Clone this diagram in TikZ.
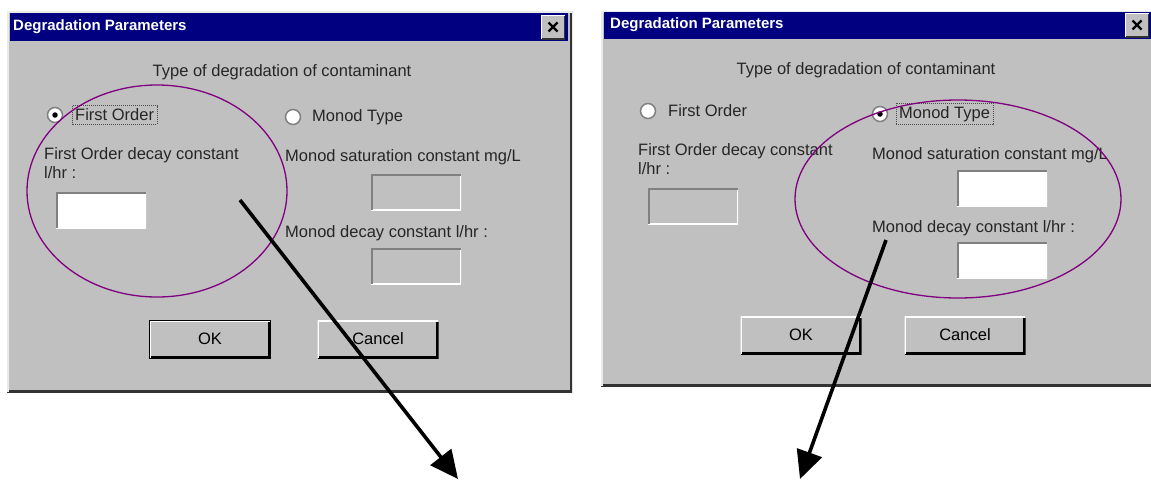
\documentclass[tikz,border=0pt]{standalone}
\usepackage{fontspec}
\setmainfont{Liberation Sans}
\usetikzlibrary{arrows.meta,shapes.geometric}
\definecolor{winGray}{HTML}{C0C0C0}
\definecolor{winDark}{HTML}{808080}
\definecolor{winNavy}{HTML}{000080}
\definecolor{ovalPurple}{HTML}{800080}
\tikzset{
  x=1pt, y=-1pt,
  dialog/.style={rectangle, fill=winGray, inner sep=0pt, anchor=north west,
    path picture={
      \draw[black!80, line width=5pt] (path picture bounding box.south west) -| (path picture bounding box.north east);
      \draw[white!92!black, line width=3pt] (path picture bounding box.south west) |- (path picture bounding box.north east);
    }},
  titlebar/.style={rectangle, fill=winNavy, inner sep=0pt, anchor=north west},
  titletext/.style={font=\bfseries\fontsize{15}{17}\selectfont, text=white, anchor=west, inner sep=0pt},
  closebtn/.style={rectangle, fill=winGray, minimum width=24pt, minimum height=24pt, inner sep=0pt,
    path picture={
      \draw[black!80, line width=3pt] (path picture bounding box.south west) -| (path picture bounding box.north east);
      \draw[white, line width=2pt] (path picture bounding box.south west) |- (path picture bounding box.north east);
      \draw[black, line width=2.2pt] ([shift={(-4.5,-4.5)}]path picture bounding box.center) -- ([shift={(4.5,4.5)}]path picture bounding box.center)
        ([shift={(-4.5,4.5)}]path picture bounding box.center) -- ([shift={(4.5,-4.5)}]path picture bounding box.center);
    }},
  lbl/.style={font=\fontsize{16.5}{19}\selectfont, text=black!85, inner sep=0pt, anchor=west, align=left},
  field/.style={rectangle, minimum width=90pt, minimum height=36pt, inner sep=0pt,
    path picture={
      \draw[white, line width=3pt] (path picture bounding box.south west) -| (path picture bounding box.north east);
      \draw[winDark, line width=4pt] (path picture bounding box.south west) |- (path picture bounding box.north east);
    }},
  activefield/.style={field, fill=white},
  idlefield/.style={field, fill=winGray},
  button/.style={rectangle, fill=winGray, minimum width=121pt, minimum height=38pt, inner sep=0pt,
    font=\fontsize{16.5}{19}\selectfont,
    path picture={
      \draw[black, line width=5pt] (path picture bounding box.south west) -| (path picture bounding box.north east);
      \draw[white, line width=3pt] (path picture bounding box.south west) |- (path picture bounding box.north east);
    }},
  defbutton/.style={button, draw=black, line width=1pt},
  radio/.style={circle, minimum size=15pt, inner sep=0pt, fill=white, draw=winDark, line width=1.5pt},
  radiodot/.style={circle, minimum size=5.5pt, inner sep=0pt, fill=black},
  focusbox/.style={draw=black!70, dash pattern=on 1pt off 1pt, line width=0.8pt},
  oval/.style={ellipse, draw=ovalPurple, line width=1.3pt},
  pointer/.style={line width=3.6pt, -{Triangle[length=28pt,width=26pt]}}
}
\begin{document}
\begin{tikzpicture}
\clip (0,0) rectangle (1151,480);
\fill[white] (0,0) rectangle (1151,480);

% ---------------- Left dialog ----------------
\node[dialog, minimum width=565pt, minimum height=381pt] (dlgL) at (7,11) {};
\node[titlebar, minimum width=558pt, minimum height=28pt] (titleL) at (10,13) {};
\node[titletext] (titleLtxt) at (13,27) {Degradation Parameters};
\node[closebtn] (closeL) at (553,27) {};
\node[lbl, anchor=center] (typeL) at (282,72) {Type of degradation of contaminant};
\node[radio] (radFOL) at (55,115) {};
\node[radiodot] (radFOLdot) at (radFOL.center) {};
\node[lbl] (txtFOL) at (75,115) {First Order};
\draw[focusbox] ([shift={(-3,-3)}]txtFOL.north west) rectangle ([shift={(3,3)}]txtFOL.south east);
\node[radio] (radMTL) at (293,117) {};
\node[lbl] (txtMTL) at (312,117) {Monod Type};
\node[lbl, anchor=north west] (fodL) at (44,147) {First Order decay constant\\l/hr :};
\node[activefield] (fieldFOL) at (101,210) {};
\node[lbl] (satL) at (285,157) {Monod saturation constant mg/L};
\node[idlefield] (fieldSatL) at (416,192) {};
\node[lbl] (mdcL) at (285,233) {Monod decay constant l/hr :};
\node[idlefield] (fieldMdcL) at (416,266) {};
\node[defbutton] (okL) at (210,339) {OK};
\node[button] (cancelL) at (378,339) {Cancel};

% ---------------- Right dialog ----------------
\node[dialog, minimum width=556pt, minimum height=375pt] (dlgR) at (601,11) {};
\node[titlebar, minimum width=552pt, minimum height=27pt] (titleR) at (604,12) {};
\node[titletext] (titleRtxt) at (610,25) {Degradation Parameters};
\node[closebtn] (closeR) at (1137,25) {};
\node[lbl, anchor=center] (typeR) at (866,70) {Type of degradation of contaminant};
\node[radio] (radFOR) at (648,111) {};
\node[lbl] (txtFOR) at (668,111) {First Order};
\node[radio] (radMTR) at (880,114) {};
\node[radiodot] (radMTRdot) at (radMTR.center) {};
\node[lbl] (txtMTR) at (899,114) {Monod Type};
\draw[focusbox] ([shift={(-3,-3)}]txtMTR.north west) rectangle ([shift={(3,3)}]txtMTR.south east);
\node[lbl, anchor=north west] (fodR) at (638,143) {First Order decay constant\\l/hr :};
\node[idlefield] (fieldFOR) at (693,206) {};
\node[lbl] (satR) at (872,155) {Monod saturation constant mg/L};
\node[activefield] (fieldSatR) at (1002,188) {};
\node[lbl] (mdcR) at (872,228) {Monod decay constant l/hr :};
\node[activefield] (fieldMdcR) at (1002,260) {};
\node[button] (okR) at (801,335) {OK};
\node[button] (cancelR) at (965,335) {Cancel};

% ---------------- Highlight ovals ----------------
\node[oval, minimum width=260pt, minimum height=212pt] (ovalL) at (157,191) {};
\node[oval, minimum width=326pt, minimum height=198pt] (ovalR) at (958,199) {};

% ---------------- Pointers ----------------
\coordinate (startL) at (240,200);
\coordinate (endL) at (458,479);
\coordinate (startR) at (886,240);
\coordinate (endR) at (800,479);
\draw[pointer] (startL) -- (endL);
\draw[pointer] (startR) -- (endR);
\end{tikzpicture}
\end{document}
